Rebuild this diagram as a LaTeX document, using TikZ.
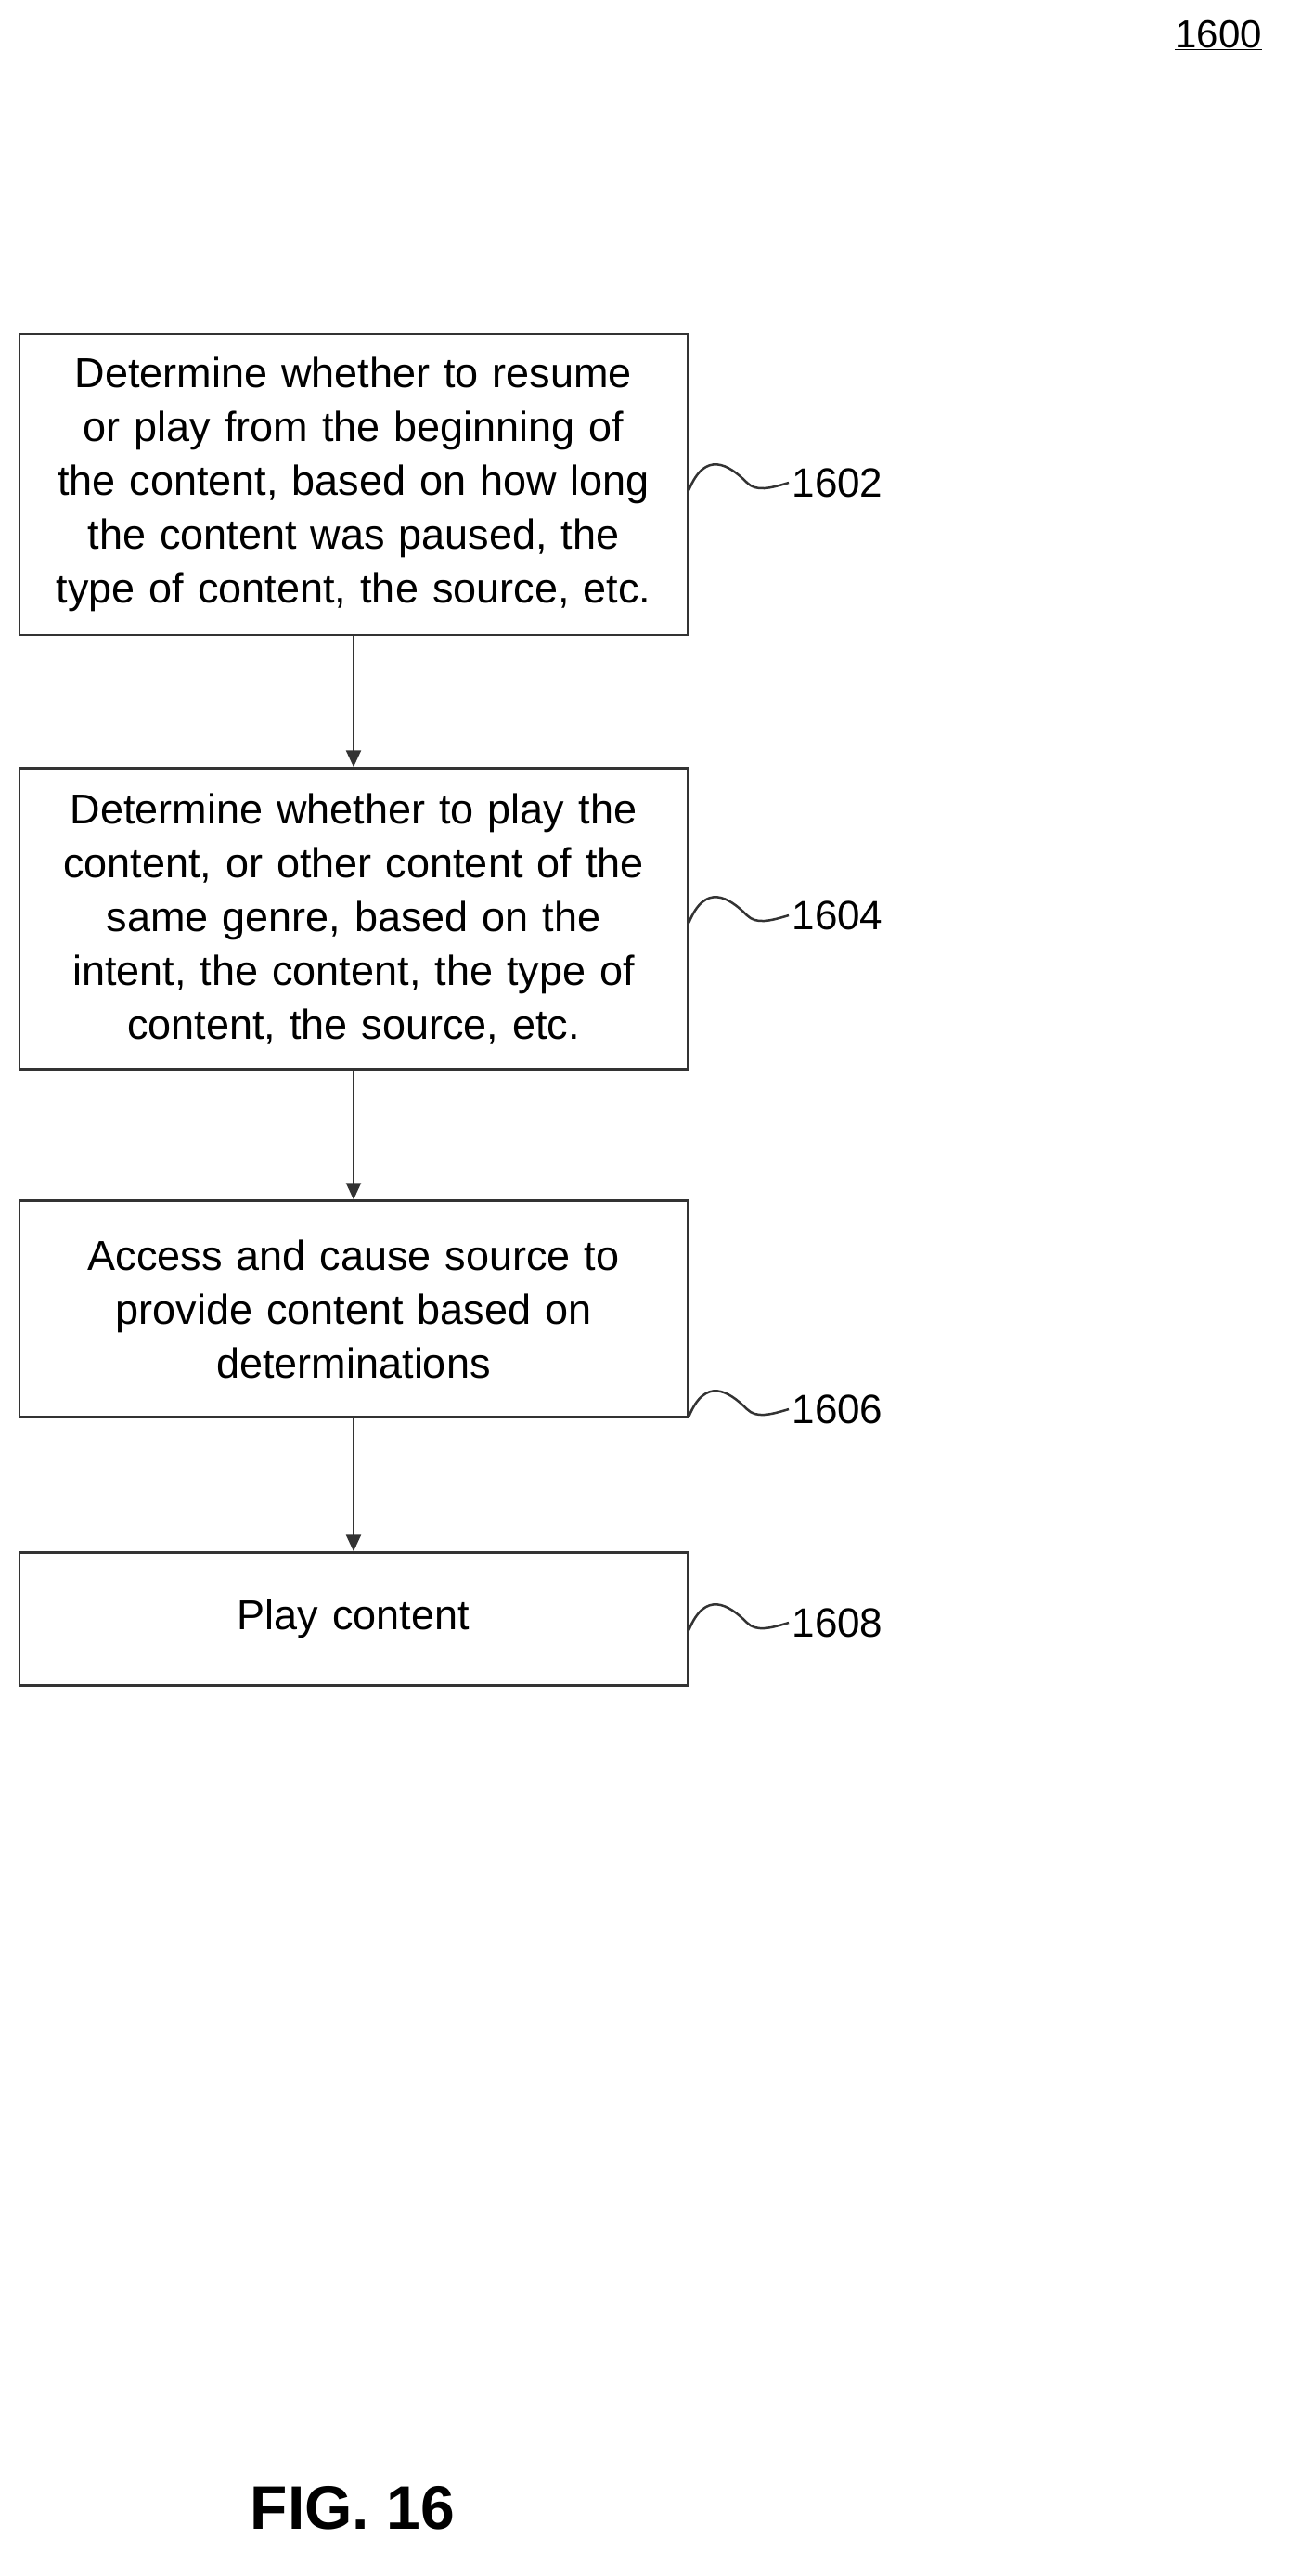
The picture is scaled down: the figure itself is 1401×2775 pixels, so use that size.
\documentclass[tikz,border=0pt]{standalone}
\usepackage{fontspec}
\setmainfont{Liberation Sans}
\usetikzlibrary{arrows.meta}
\begin{document}
\begin{tikzpicture}[x=1pt,y=-1pt,
 box/.style={draw=black!80,line width=2.5pt,minimum width=720pt,text width=710pt,align=center,inner sep=0pt,font=\fontsize{45}{58}\selectfont},
 lab/.style={font=\fontsize{44}{50}\selectfont,anchor=west},
 arr/.style={line width=2.5pt,draw=black!80,-{Triangle[length=18pt,width=16pt]}},
 sq/.style={line width=2.5pt,draw=black!80}]
\useasboundingbox (0,0) rectangle (1401,2775);
\node[box,minimum height=324pt] (b1) at (381,522) {Determine whether to resume\\or play from the beginning of\\the content, based on how long\\the content was paused, the\\type of content, the source, etc.};
\node[box,minimum height=325pt] (b2) at (381,990) {Determine whether to play the\\content, or other content of the\\same genre, based on the\\intent, the content, the type of\\content, the source, etc.};
\node[box,minimum height=233pt] (b3) at (381,1410) {Access and cause source to\\provide content based on\\determinations\\[58pt]};
\node[box,minimum height=143pt] (b4) at (381,1744) {Play content};
\draw[arr] (b1) -- (b2);
\draw[arr] (b2) -- (b3);
\draw[arr] (b3) -- (b4);
\node[lab] (l1) at (850,520) {1602};
\node[lab] (l2) at (850,986) {1604};
\node[lab] (l3) at (850,1518) {1606};
\node[lab] (l4) at (850,1748) {1608};
\foreach \b/\l/\y in {b1/l1/520,b2/l2/986,b3/l3/1518,b4/l4/1748}{
 \draw[sq] (b1.east |- 0,\y+8) .. controls (760,\y-35) and (785,\y-20) .. (805,\y) .. controls (815,\y+10) and (830,\y+6) .. (\l.west);
}
\node[font=\fontsize{42}{48}\selectfont] (n) at (1313,38) {\underline{1600}};
\node[font=\bfseries\fontsize{66}{72}\selectfont] (f) at (380,2702) {FIG. 16};
\end{tikzpicture}
\end{document}
